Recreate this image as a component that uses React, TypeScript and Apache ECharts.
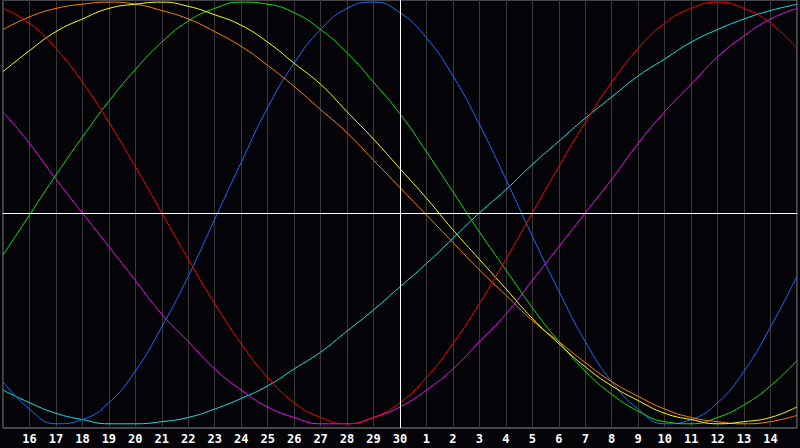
import { useEffect, useRef } from "react";
import * as echarts from "echarts";

// day labels, 15th of last month to 15th of this one
const days = [
  "15", "16", "17", "18", "19", "20", "21", "22", "23", "24", "25", "26", "27", "28", "29", "30",
  "1", "2", "3", "4", "5", "6", "7", "8", "9", "10", "11", "12", "13", "14", "15",
];

// values in %, one per day
const physical = [
  -80, -93, -100, -98, -90, -75, -54, -30, -3, 24, 50, 71, 87, 97, 100, 95,
  83, 65, 42, 16, -11, -37, -61, -80, -93, -100, -98, -90, -75, -54, -30,
];
const emotional = [
  97, 90, 78, 62, 43, 22, 0, -22, -43, -62, -78, -90, -97, -100, -97, -90,
  -78, -62, -43, -22, 0, 22, 43, 62, 78, 90, 97, 100, 97, 90, 78,
];
const intellectual = [
  -20, -1, 18, 36, 53, 68, 81, 91, 97, 100, 99, 95, 87, 76, 62, 47,
  29, 10, -9, -27, -45, -61, -75, -86, -94, -99, -100, -97, -91, -82, -70,
];
const intuitive = [
  48, 33, 16, 0, -16, -32, -48, -61, -74, -84, -92, -97, -100, -100, -97, -92,
  -84, -74, -61, -48, -32, -16, 0, 16, 33, 48, 61, 74, 84, 92, 97,
];
const aesthetic = [
  67, 77, 86, 92, 97, 99, 100, 98, 94, 89, 81, 71, 61, 48, 35, 21,
  7, -8, -22, -36, -50, -62, -73, -82, -89, -95, -98, -100, -99, -97, -92,
];
const awareness = [
  87, 93, 97, 99, 100, 99, 96, 92, 86, 79, 70, 60, 49, 38, 25, 12,
  -1, -14, -27, -39, -51, -61, -71, -80, -87, -93, -97, -99, -100, -99, -96,
];
const spiritual = [
  -84, -90, -95, -98, -100, -100, -99, -97, -93, -88, -82, -74, -66, -56, -46, -35,
  -24, -12, 0, 11, 23, 34, 45, 55, 65, 73, 81, 87, 92, 96, 99,
];

const todayIndex = 15;

const curves = [
  { name: "spiritual", data: spiritual, color: "#10e8e8" },
  { name: "intuitive", data: intuitive, color: "#f010f0" },
  { name: "physical", data: physical, color: "#1a6cff" },
  { name: "intellectual", data: intellectual, color: "#10e010" },
  { name: "awareness", data: awareness, color: "#ff8000" },
  { name: "aesthetic", data: aesthetic, color: "#ffff00" },
  { name: "emotional", data: emotional, color: "#ff0000" },
];

export default function App() {
  const ref = useRef<HTMLDivElement | null>(null);

  useEffect(() => {
    if (!ref.current) return;
    const chart = echarts.init(ref.current, null, { renderer: "svg" });

    const series: echarts.SeriesOption[] = curves.map((c) => ({
      type: "line",
      name: c.name,
      data: c.data.map((v, i) => [i, v]),
      smooth: true,
      showSymbol: false,
      lineStyle: { color: c.color, width: 1 },
      itemStyle: { color: c.color },
    }));

    // today and the zero line
    series.push({
      type: "line",
      data: [],
      markLine: {
        silent: true,
        symbol: "none",
        label: { show: false },
        lineStyle: { color: "#ffffff", type: "solid", width: 1 },
        data: [{ yAxis: 0 }, { xAxis: todayIndex }],
      },
    });

    chart.setOption({
      animation: false,
      backgroundColor: "#040408",
      grid: {
        left: 0,
        right: 0,
        top: 0,
        bottom: 20,
        show: true,
        borderColor: "#8a8a8a",
        borderWidth: 1,
      },
      xAxis: {
        type: "value",
        min: 0,
        max: days.length - 1,
        interval: 1,
        axisLine: { show: true, lineStyle: { color: "#9a9a9a" } },
        axisTick: { show: false },
        splitLine: { show: true, lineStyle: { color: "#383838", width: 1 } },
        axisLabel: {
          color: "#ffffff",
          fontFamily: "DejaVu Sans Mono",
          fontWeight: "bold",
          fontSize: 12,
          margin: 5,
          formatter: (v: number) =>
            v === 0 || v === days.length - 1 ? "" : days[v] ?? "",
        },
      },
      yAxis: {
        type: "value",
        min: -102,
        max: 101,
        show: false,
        splitLine: { show: false },
      },
      series,
    });

    return () => chart.dispose();
  }, []);

  return (
    <div
      ref={ref}
      style={{ position: "fixed", left: 0, top: 0, width: 800, height: 448 }}
    />
  );
}
